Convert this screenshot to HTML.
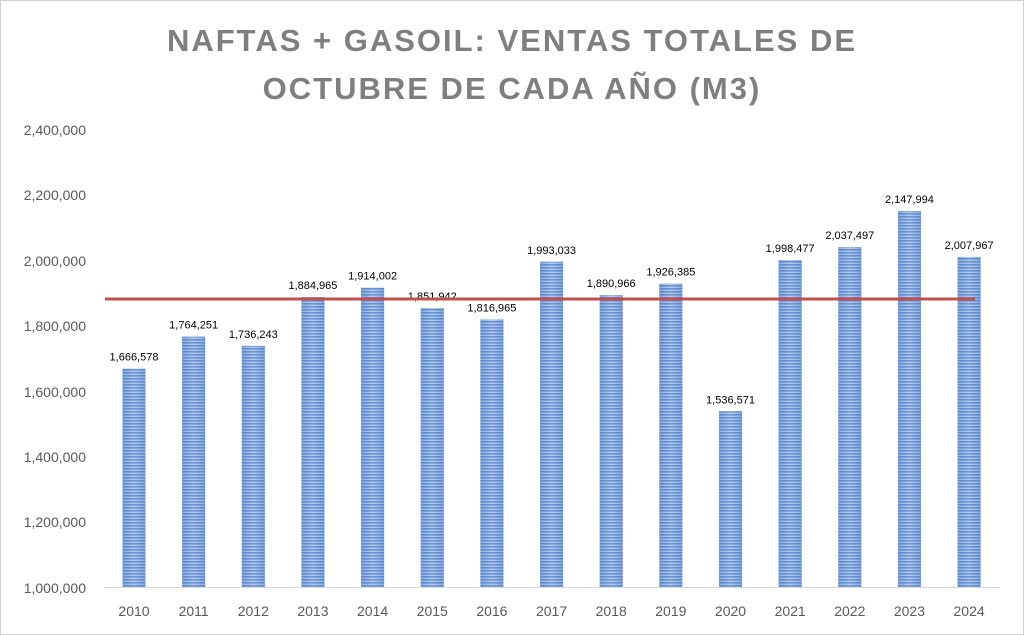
<!DOCTYPE html>
<html><head><meta charset="utf-8"><style>
body{margin:0;background:#fff;}
svg{display:block;font-family:"Liberation Sans",sans-serif;}
</style></head><body>
<svg width="1024" height="635" xmlns="http://www.w3.org/2000/svg">
<defs>
<linearGradient id="g" x1="0" x2="1" y1="0" y2="0">
<stop offset="0" stop-color="#4a7fcc"/><stop offset="0.5" stop-color="#8fb3e6"/><stop offset="1" stop-color="#4a7fcc"/>
</linearGradient>
<pattern id="p" width="4" height="3" patternUnits="userSpaceOnUse">
<rect width="4" height="3" fill="#ffffff" opacity="0.35"/>
<rect width="4" height="1.6" fill="#3c6fbf" opacity="0.6"/>
</pattern>
</defs>
<rect x="0.5" y="0.5" width="1023" height="634" fill="#fff" stroke="#d0d0d0"/>
<text x="512" y="51" text-anchor="middle" font-size="31" font-weight="bold" fill="#7f7f7f" letter-spacing="2">NAFTAS + GASOIL: VENTAS TOTALES DE</text>
<text x="512" y="99" text-anchor="middle" font-size="31" font-weight="bold" fill="#7f7f7f" letter-spacing="2">OCTUBRE DE CADA AÑO (M3)</text>
<g font-size="14" fill="#595959" text-anchor="end">
<text x="86" y="135">2,400,000</text>
<text x="86" y="200">2,200,000</text>
<text x="86" y="266">2,000,000</text>
<text x="86" y="331">1,800,000</text>
<text x="86" y="397">1,600,000</text>
<text x="86" y="462">1,400,000</text>
<text x="86" y="527">1,200,000</text>
<text x="86" y="593">1,000,000</text>
</g>
<line x1="104" y1="587.5" x2="1000" y2="587.5" stroke="#d9d9d9"/>
<g id="bars"></g>
<line x1="105" y1="299" x2="975" y2="299" stroke="#c0504d" stroke-width="3"/>
</svg>
<script>
var d=[1666578,1764251,1736243,1884965,1914002,1851942,1816965,1993033,1890966,1926385,1536571,1998477,2037497,2147994,2007967];
var g=document.getElementById('bars'),s='';
d.forEach(function(v,i){var cx=134+i*59.65,y=587-(v-1e6)*65.5/200000,h=587-y;
s+='<rect x="'+(cx-11.5)+'" y="'+y+'" width="23" height="'+h+'" fill="url(#g)"/>';
s+='<rect x="'+(cx-11.5)+'" y="'+y+'" width="23" height="'+h+'" fill="url(#p)"/>';
s+='<text x="'+cx+'" y="'+(y-8)+'" font-size="11" text-anchor="middle" fill="#000">'+v.toLocaleString('en-US')+'</text>';
s+='<text x="'+cx+'" y="616" font-size="14" text-anchor="middle" fill="#595959">'+(2010+i)+'</text>';});
g.innerHTML=s;
</script>
</body></html>
